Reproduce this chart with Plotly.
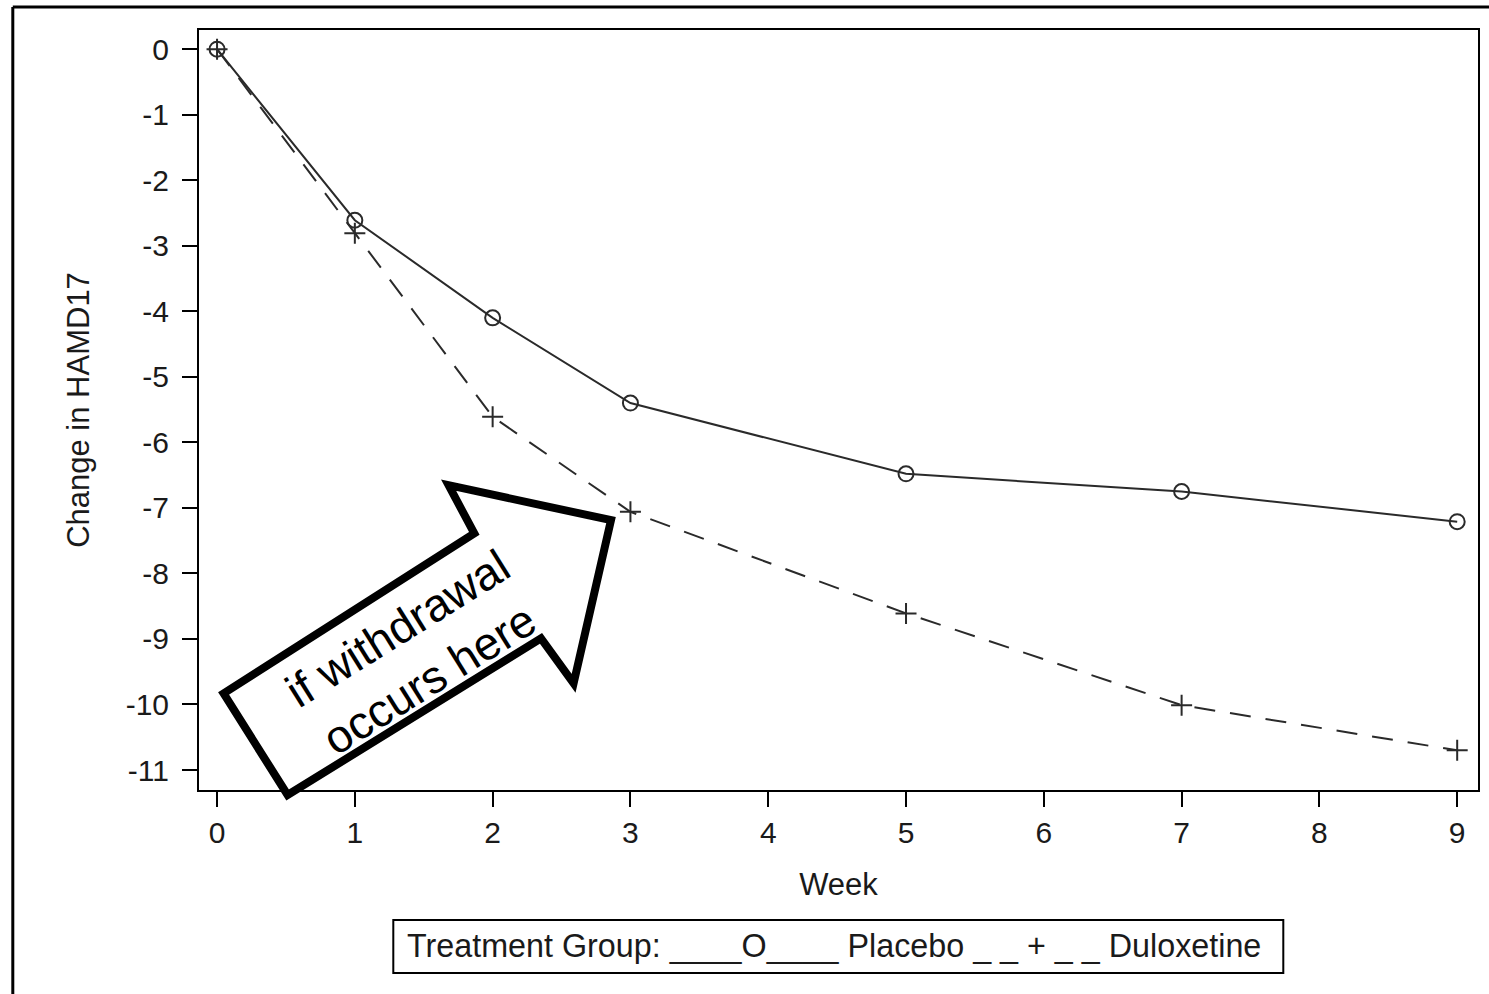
import plotly.graph_objects as go

weeks = [0, 1, 2, 3, 5, 7, 9]
placebo = [0, -2.61, -4.10, -5.40, -6.48, -6.75, -7.21]
duloxetine = [0, -2.81, -5.61, -7.06, -8.61, -10.01, -10.70]
x_ticks = [0, 1, 2, 3, 4, 5, 6, 7, 8, 9]
y_ticks = [0, -1, -2, -3, -4, -5, -6, -7, -8, -9, -10, -11]

FONT = "Liberation Sans, Arial, sans-serif"
INK = "#1a1a1a"
LINE = "#2a2a2a"

fig = go.Figure()
fig.add_trace(go.Scatter(
    x=weeks, y=placebo, mode="lines+markers", name="Placebo",
    line=dict(color=LINE, width=2),
    marker=dict(symbol="circle-open", size=15, color=LINE, line=dict(width=2, color=LINE)),
    cliponaxis=False,
))
fig.add_trace(go.Scatter(
    x=weeks, y=duloxetine, mode="lines+markers", name="Duloxetine",
    line=dict(color=LINE, width=2, dash="21px,15px"),
    marker=dict(symbol="cross-thin", size=15, color=LINE, line=dict(width=2, color=LINE)),
    cliponaxis=False,
))

# plot area in pixels: left 198.7, right 1477.7, top 29.5, bottom 790
W, H = 1489, 994
L, R, T, B = 198.7, 1477.7, 29.5, 790.0

def px(xp, yp):
    return ((xp - L) / (R - L), (B - yp) / (B - T))

# outer frame (top & left)
x0, y0 = px(12.5, 6.5)
x1, y1 = px(1492, 1000)
shapes = [
    dict(type="line", xref="paper", yref="paper", x0=x0, y0=y0, x1=x1, y1=y0,
         line=dict(color="black", width=3)),
    dict(type="line", xref="paper", yref="paper", x0=x0, y0=y0, x1=x0, y1=y1,
         line=dict(color="black", width=3)),
]

# legend box
lx0, ly0 = px(393, 920)
lx1, ly1 = px(1283, 973)
shapes.append(dict(type="rect", xref="paper", yref="paper", x0=lx0, y0=ly0, x1=lx1, y1=ly1,
                   line=dict(color="black", width=2), fillcolor="white"))

# big callout arrow
pts = [(223.3, 693.3), (287.3, 795), (540.7, 638.3), (573.3, 683.3),
       (610.7, 520), (448.3, 485), (474, 533.3)]
pp = [px(a, b) for a, b in pts]
path = "M " + " L ".join(f"{a:.5f},{b:.5f}" for a, b in pp) + " Z"
shapes.append(dict(type="path", xref="paper", yref="paper", path=path,
                   line=dict(color="black", width=8), fillcolor="white", layer="above"))

tx, ty = px(413, 654)
lgx, lgy = px(834, 946.5)
annotations = [
    dict(xref="paper", yref="paper", x=tx, y=ty, text="if withdrawal<br>occurs here",
         textangle=-32, showarrow=False, xanchor="center", yanchor="middle",
         font=dict(family=FONT, size=46, color="black")),
    dict(xref="paper", yref="paper", x=lgx, y=lgy,
         text="Treatment Group: ____O____ Placebo _ _ + _ _ Duloxetine",
         showarrow=False, xanchor="center", yanchor="middle",
         font=dict(family=FONT, size=32.3, color=INK)),
]

fig.update_layout(
    width=W, height=H,
    margin=dict(l=L, r=W - R, t=T, b=H - B, autoexpand=False),
    paper_bgcolor="white", plot_bgcolor="white",
    showlegend=False,
    font=dict(family=FONT, size=30, color=INK),
    shapes=shapes, annotations=annotations,
    xaxis=dict(
        range=[-0.131, 9.151], tickvals=x_ticks, ticktext=[str(v) for v in x_ticks],
        ticks="outside", ticklen=15, tickwidth=2, tickcolor="black",
        showline=True, linecolor="black", linewidth=2, mirror=True,
        showgrid=False, zeroline=False,
        tickfont=dict(family=FONT, size=30, color=INK),
        title=dict(text="Week", font=dict(family=FONT, size=31, color=INK), standoff=25),
    ),
    yaxis=dict(
        range=[-11.305, 0.293], tickvals=y_ticks, ticktext=[str(v) for v in y_ticks],
        ticks="outside", ticklen=15, tickwidth=2, tickcolor="black",
        showline=True, linecolor="black", linewidth=2, mirror=True,
        showgrid=False, zeroline=False, ticklabelstandoff=7,
        tickfont=dict(family=FONT, size=30, color=INK),
        title=dict(text="Change in HAMD17", font=dict(family=FONT, size=31, color=INK), standoff=27),
    ),
)

fig.write_html(
    "out.html",
    config={"displayModeBar": False},
    post_script="document.body.style.margin='0';document.body.style.overflow='hidden';",
)
